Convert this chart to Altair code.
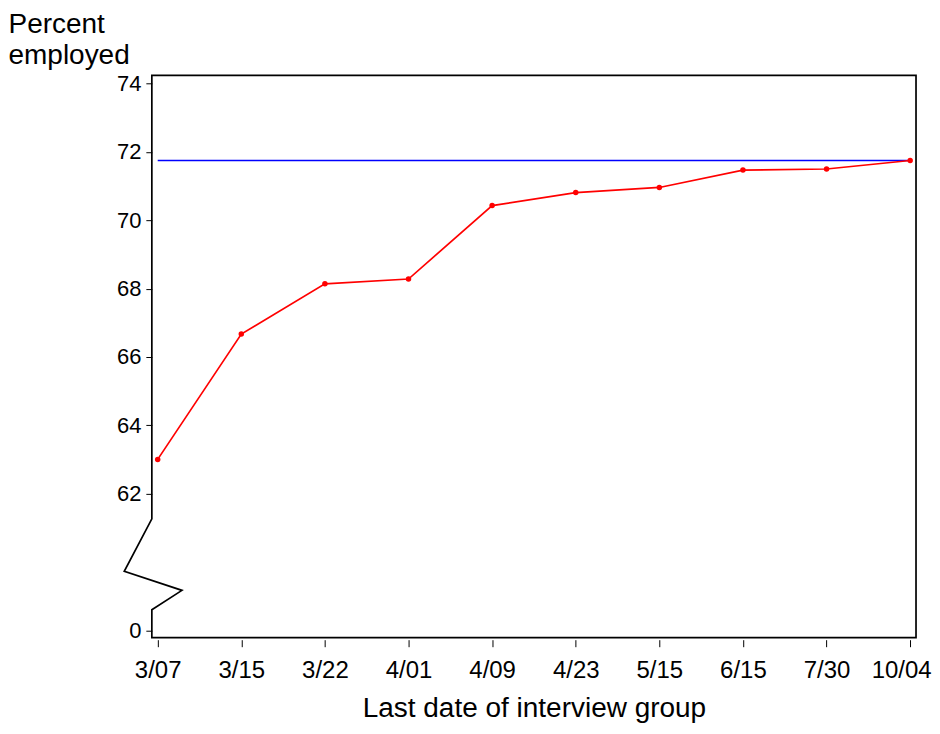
import json
import altair as alt
import pandas as pd

# ---- data ----
dates = ["3/07", "3/15", "3/22", "4/01", "4/09", "4/23", "5/15", "6/15", "7/30", "10/04"]
pct_employed = [63.0, 66.67, 68.14, 68.28, 70.43, 70.81, 70.96, 71.47, 71.50, 71.75]
overall_level = 71.75
y_tick_values = [0, 62, 64, 66, 68, 70, 72, 74]

# scale layout (piecewise linear with an axis break between 0 and 62)
X_DOMAIN = [-0.07, 9.07]
Y_DOMAIN = [-4.0, 61.26, 74.243]
Y_RANGE = [563, 444, 0]
PLOT_W, PLOT_H = 765, 563

# frame outline with the zig-zag break on the left edge (data units)
frame_x = [X_DOMAIN[0], X_DOMAIN[0], -0.40, 0.29, X_DOMAIN[0], X_DOMAIN[0], X_DOMAIN[1], X_DOMAIN[1], X_DOMAIN[0]]
frame_y = [Y_DOMAIN[2], 61.26, 32.45, 22.0, 11.36, Y_DOMAIN[0], Y_DOMAIN[0], Y_DOMAIN[2], Y_DOMAIN[2]]

FONT = "Liberation Sans"

df = pd.DataFrame({"i": list(range(len(dates))), "pct": pct_employed, "date": dates})
frame_df = pd.DataFrame({"k": list(range(len(frame_x))), "fx": frame_x, "fy": frame_y})
ref_df = pd.DataFrame({"x0": [0], "x1": [len(dates) - 1], "y": [overall_level]})

label_expr = json.dumps(dates) + "[datum.value]"
last_idx = len(dates) - 1

x_scale = alt.Scale(domain=X_DOMAIN, nice=False, zero=False)
y_scale = alt.Scale(domain=Y_DOMAIN, range=Y_RANGE, nice=False, zero=False)

x_axis = alt.Axis(
    values=list(range(len(dates))),
    labelExpr=label_expr,
    domain=False,
    grid=False,
    ticks=True,
    tickSize=7,
    tickColor="black",
    tickWidth=1,
    offset=2,
    labelFont=FONT,
    labelFontSize=24,
    labelColor="black",
    labelPadding=12,
    labelOffset={"condition": {"test": f"datum.value == {last_idx}", "value": -9}, "value": 0},
    labelFlush=False,
    labelOverlap=False,
    title="Last date of interview group",
    titleFont=FONT,
    titleFontSize=28,
    titleFontWeight="normal",
    titleColor="black",
    titleBaseline="alphabetic",
    titleY=77,
)

y_axis = alt.Axis(
    values=y_tick_values,
    format="d",
    domain=False,
    grid=False,
    tickSize=6,
    tickColor="black",
    tickWidth=1,
    labelFont=FONT,
    labelFontSize=22,
    labelColor="black",
    labelPadding=5,
    labelOverlap=False,
    labelFlush=False,
    title=["Percent", "employed"],
    titleFont=FONT,
    titleFontSize=28,
    titleFontWeight="normal",
    titleColor="black",
    titleAngle=0,
    titleAlign="left",
    titleBaseline="top",
    titleLineHeight=31,
    titleX=-144,
    titleY=-65,
)

frame = alt.Chart(frame_df).mark_line(
    color="black", strokeWidth=1.7, clip=False, strokeJoin="miter", strokeCap="square"
).encode(
    x=alt.X("fx:Q", scale=x_scale, axis=x_axis),
    y=alt.Y("fy:Q", scale=y_scale, axis=y_axis),
    order=alt.Order("k:Q"),
)

ref_line = alt.Chart(ref_df).mark_rule(color="#0000ff", strokeWidth=1.7).encode(
    x=alt.X("x0:Q", scale=x_scale),
    x2="x1:Q",
    y=alt.Y("y:Q", scale=y_scale),
)

series = alt.Chart(df).mark_line(
    color="#ff0000", strokeWidth=1.7,
    point=alt.OverlayMarkDef(color="#ff0000", filled=True, size=30, opacity=1),
).encode(
    x=alt.X("i:Q", scale=x_scale),
    y=alt.Y("pct:Q", scale=y_scale),
)

chart = alt.layer(frame, ref_line, series).properties(
    width=PLOT_W, height=PLOT_H,
    padding={"top": 2, "left": 0, "right": 0, "bottom": 0},
    background="white",
).configure_view(stroke=None)

chart.save("out.html", embed_options={"renderer": "svg", "actions": False})
